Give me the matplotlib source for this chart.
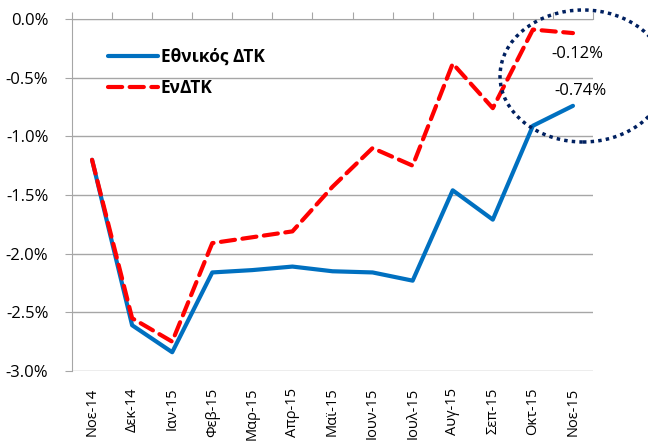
import matplotlib
matplotlib.use('Agg')
import matplotlib.pyplot as plt
from matplotlib.patches import Ellipse
from matplotlib.ticker import FuncFormatter

plt.rcParams['font.family'] = ['Open Sans', 'DejaVu Sans']

months = ['Νοε-14', 'Δεκ-14', 'Ιαν-15', 'Φεβ-15', 'Μαρ-15', 'Απρ-15', 'Μαϊ-15',
          'Ιουν-15', 'Ιουλ-15', 'Αυγ-15', 'Σεπ-15', 'Οκτ-15', 'Νοε-15']
national = [-1.20, -2.61, -2.84, -2.16, -2.14, -2.11, -2.15, -2.16, -2.23,
            -1.46, -1.71, -0.91, -0.74]
endtk = [-1.20, -2.55, -2.75, -1.91, -1.86, -1.81, -1.43, -1.10, -1.25,
         -0.38, -0.76, -0.09, -0.12]

W, H = 648, 444
fig = plt.figure(figsize=(W / 100, H / 100), dpi=100)
ax = fig.add_axes([72/W, 1 - 371/H, (593 - 72)/W, (371 - 19)/H])

x = range(len(months))
ax.plot(x, national, color='#0070C0', lw=3.0, solid_capstyle='round',
        label='Εθνικός ΔΤΚ', zorder=3)
ax.plot(x, endtk, color='#FF0000', lw=3.0, ls=(0, (3.4, 1.8)),
        dash_capstyle='round', label='ΕνΔΤΚ', zorder=4)

ax.set_xlim(-0.5, len(months) - 0.5)
ax.set_ylim(-3.0, 0.0)
ax.set_yticks([0, -0.5, -1.0, -1.5, -2.0, -2.5, -3.0])
ax.yaxis.set_major_formatter(FuncFormatter(lambda v, p: f'{v:.1f}%'))
ax.grid(axis='y', color='#a6a6a6', lw=1)
ax.set_axisbelow(True)

# x axis crosses at 0: boundary ticks on top, labels at bottom
ax.set_xticks([i - 0.5 for i in range(len(months) + 1)])
ax.set_xticks(list(x), minor=True)
ax.set_xticklabels(months, minor=True, rotation=90)
ax.tick_params(axis='x', which='major', top=True, bottom=False,
               labelbottom=False, labeltop=False, length=5, color='#a6a6a6')
ax.tick_params(axis='x', which='minor', top=False, bottom=False, length=0,
               labelbottom=True, labelsize=10.5, pad=12)
ax.tick_params(axis='y', length=5, color='#a6a6a6', labelsize=12, pad=12)

for s in ['right', 'bottom']:
    ax.spines[s].set_visible(False)
ax.spines['left'].set_color('#a6a6a6')
ax.spines['top'].set_color('#a6a6a6')

ax.legend(loc='upper left', bbox_to_anchor=(108/W, 1 - 48/H),
          bbox_transform=fig.transFigure, frameon=False, borderpad=0,
          borderaxespad=0, handlelength=2.9, handletextpad=0.15,
          labelspacing=0.75, prop={'weight': 'bold', 'size': 12.5})

ax.text(12.1, -0.30, '-0.12%', fontsize=12, ha='center', va='center')
ax.text(12.2, -0.61, '-0.74%', fontsize=12, ha='center', va='center')

ell = Ellipse((583, H - 76), 166, 132, transform=None, fill=False,
              edgecolor='#002060', lw=2.5, ls=(0, (1, 1.2)), clip_on=False)
fig.add_artist(ell)

fig.savefig('out.png', dpi=100)
